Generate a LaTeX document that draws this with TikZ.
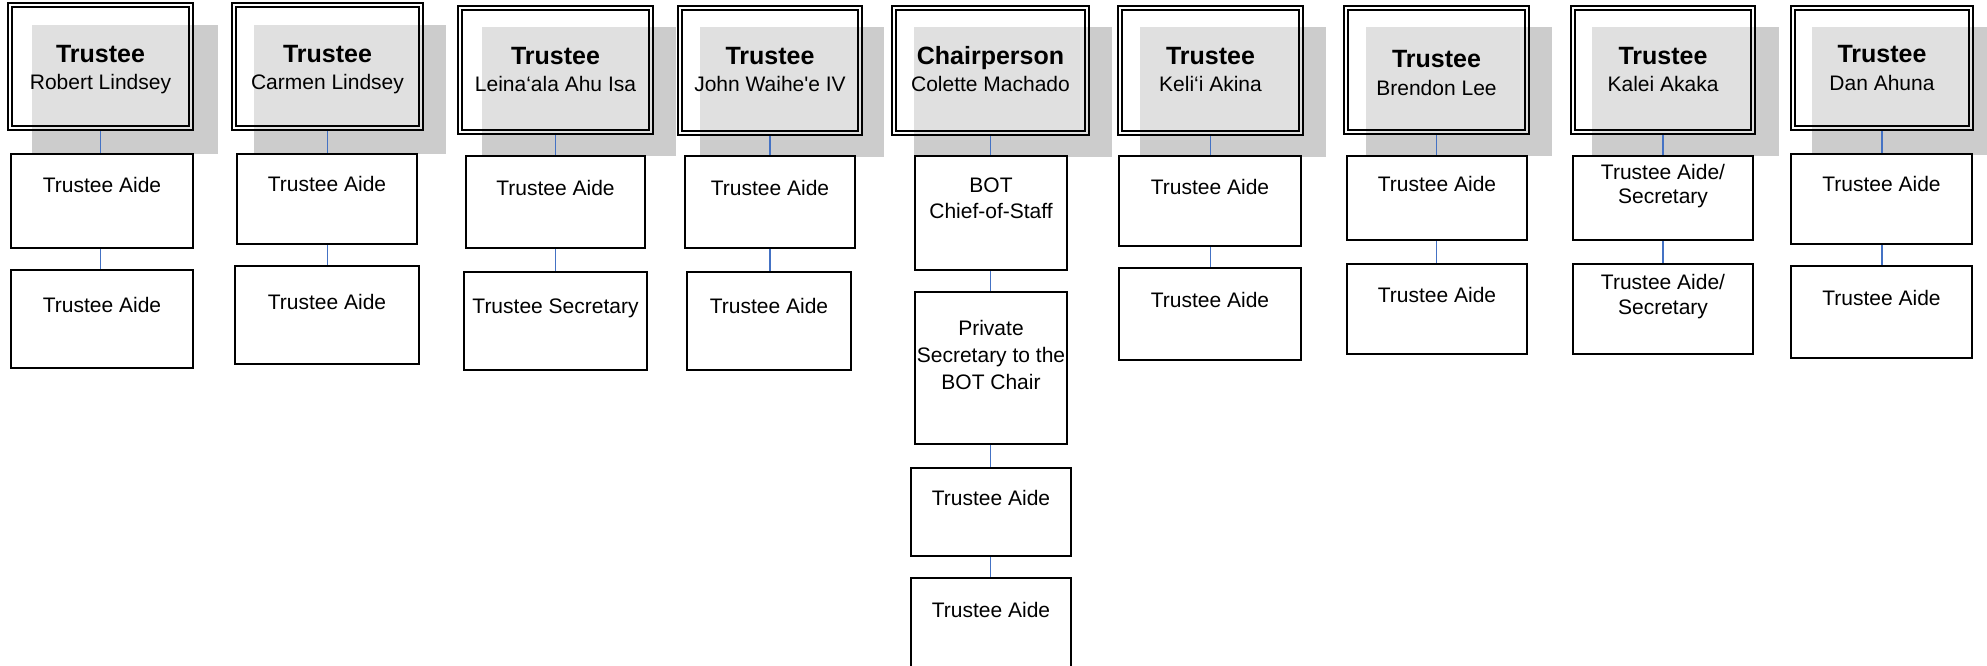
\documentclass[tikz,border=0pt]{standalone}
\usepackage{fontspec}
\setmainfont{Liberation Sans}
\usetikzlibrary{fit,calc}
\definecolor{connblue}{RGB}{68,114,196}
\definecolor{shadowgray}{RGB}{204,204,204}
\begin{document}
\begin{tikzpicture}[x=1pt,y=-1pt,
  shadowbox/.style={fill=shadowgray},
  frame/.style={inner sep=0pt, draw, line width=1.6pt, fill=white, fill opacity=0.4},
  innerframe/.style={draw, line width=2.3pt},
  aidebox/.style={inner sep=0pt, draw, line width=2pt, fill=white},
  conn/.style={draw=connblue, line width=1.9pt},
  ttl/.style={font=\bfseries\fontsize{25}{30}\selectfont, anchor=base, inner sep=0pt},
  txt/.style={font=\fontsize{21}{25}\selectfont, anchor=base, inner sep=0pt}]
\useasboundingbox (0,0) rectangle (1987,666);
\clip (0,0) rectangle (1987,666);
\fill[white] (0,0) rectangle (1987,666);

% shadows
\fill[shadowbox] (32,25) rectangle (218,154);
\fill[shadowbox] (254,25) rectangle (446,154);
\fill[shadowbox] (482,27) rectangle (676,156);
\fill[shadowbox] (700,27) rectangle (884,157);
\fill[shadowbox] (914,27) rectangle (1112,157);
\fill[shadowbox] (1140,27) rectangle (1326,157);
\fill[shadowbox] (1366,27) rectangle (1552,156);
\fill[shadowbox] (1592,27) rectangle (1779,156);
\fill[shadowbox] (1812,27) rectangle (2000,155);

% trustee frames
\node[frame, fit={(8,3) (193,130)}] (t1) {};
\node[frame, fit={(232,3) (423,130)}] (t2) {};
\node[frame, fit={(458,6) (653,134)}] (t3) {};
\node[frame, fit={(678,6) (862,135)}] (t4) {};
\node[frame, fit={(892,6) (1089,135)}] (t5) {};
\node[frame, fit={(1118,6) (1303,135)}] (t6) {};
\node[frame, fit={(1344,6) (1529,134)}] (t7) {};
\node[frame, fit={(1571,6) (1755,134)}] (t8) {};
\node[frame, fit={(1791,6) (1973,130)}] (t9) {};
\foreach \t in {t1,t2,t3,t4,t5,t6,t7,t8,t9}
  \draw[innerframe] ($(\t.north west)+(4.5,4.5)$) rectangle ($(\t.south east)+(-4.5,-4.5)$);

% staff boxes
\node[aidebox, fit={(11,154) (193,248)}] (a1) {};
\node[aidebox, fit={(11,270) (193,368)}] (b1) {};
\node[aidebox, fit={(237,154) (417,244)}] (a2) {};
\node[aidebox, fit={(235,266) (419,364)}] (b2) {};
\node[aidebox, fit={(466,156) (645,248)}] (a3) {};
\node[aidebox, fit={(464,272) (647,370)}] (b3) {};
\node[aidebox, fit={(685,156) (855,248)}] (a4) {};
\node[aidebox, fit={(687,272) (851,370)}] (b4) {};
\node[aidebox, fit={(915,156) (1067,270)}] (a5) {};
\node[aidebox, fit={(915,292) (1067,444)}] (b5) {};
\node[aidebox, fit={(911,468) (1071,556)}] (c5) {};
\node[aidebox, fit={(911,578) (1071,700)}] (d5) {};
\node[aidebox, fit={(1119,156) (1301,246)}] (a6) {};
\node[aidebox, fit={(1119,268) (1301,360)}] (b6) {};
\node[aidebox, fit={(1347,156) (1527,240)}] (a7) {};
\node[aidebox, fit={(1347,264) (1527,354)}] (b7) {};
\node[aidebox, fit={(1573,156) (1753,240)}] (a8) {};
\node[aidebox, fit={(1573,264) (1753,354)}] (b8) {};
\node[aidebox, fit={(1791,154) (1972,244)}] (a9) {};
\node[aidebox, fit={(1791,266) (1972,358)}] (b9) {};

% connectors
\foreach \i in {1,2,3,4,5,6,7,8,9} {
  \draw[conn] (t\i.south) -- (t\i.south |- a\i.north);
  \draw[conn] (t\i.south |- a\i.south) -- (t\i.south |- b\i.north);
}
\draw[conn] (t5.south |- b5.south) -- (t5.south |- c5.north);
\draw[conn] (t5.south |- c5.south) -- (t5.south |- d5.north);

% titles and names
\node[ttl] (t1a) at (100.5,63) {Trustee};
\node[txt] (t1b) at (100.5,90) {Robert Lindsey};
\node[ttl] (t2a) at (327.5,63) {Trustee};
\node[txt] (t2b) at (327.5,90) {Carmen Lindsey};
\node[ttl] (t3a) at (555.5,65) {Trustee};
\node[txt] (t3b) at (555.5,92) {Leina‘ala Ahu Isa};
\node[ttl] (t4a) at (770,65) {Trustee};
\node[txt] (t4b) at (770,92) {John Waihe\textquotesingle e IV};
\node[ttl] (t5a) at (990.5,65) {Chairperson};
\node[txt] (t5b) at (990.5,92) {Colette Machado};
\node[ttl] (t6a) at (1210.5,65) {Trustee};
\node[txt] (t6b) at (1210.5,92) {Keli‘i Akina};
\node[ttl] (t7a) at (1436.5,68) {Trustee};
\node[txt] (t7b) at (1436.5,96) {Brendon Lee};
\node[ttl] (t8a) at (1663,65) {Trustee};
\node[txt] (t8b) at (1663,92) {Kalei Akaka};
\node[ttl] (t9a) at (1882,63) {Trustee};
\node[txt] (t9b) at (1882,91) {Dan Ahuna};

% staff texts
\node[txt] (a1t) at (102,193) {Trustee Aide};
\node[txt] (b1t) at (102,312) {Trustee Aide};
\node[txt] (a2t) at (327,192) {Trustee Aide};
\node[txt] (b2t) at (327,309) {Trustee Aide};
\node[txt] (a3t) at (555.5,195) {Trustee Aide};
\node[txt] (b3t) at (555.5,313) {Trustee Secretary};
\node[txt] (a4t) at (770,195) {Trustee Aide};
\node[txt] (b4t) at (769,313) {Trustee Aide};
\node[txt] (a5t1) at (991,193) {BOT};
\node[txt] (a5t2) at (991,218) {Chief-of-Staff};
\node[txt] (b5t1) at (991,335) {Private};
\node[txt] (b5t2) at (991,362) {Secretary to the};
\node[txt] (b5t3) at (991,389) {BOT Chair};
\node[txt] (c5t) at (991,505) {Trustee Aide};
\node[txt] (d5t) at (991,617) {Trustee Aide};
\node[txt] (a6t) at (1210,194) {Trustee Aide};
\node[txt] (b6t) at (1210,307) {Trustee Aide};
\node[txt] (a7t) at (1437,192) {Trustee Aide};
\node[txt] (b7t) at (1437,302) {Trustee Aide};
\node[txt] (a8t1) at (1663,179) {Trustee Aide/};
\node[txt] (a8t2) at (1663,204) {Secretary};
\node[txt] (b8t1) at (1663,289) {Trustee Aide/};
\node[txt] (b8t2) at (1663,314) {Secretary};
\node[txt] (a9t) at (1881.5,192) {Trustee Aide};
\node[txt] (b9t) at (1881.5,305) {Trustee Aide};
\end{tikzpicture}
\end{document}
